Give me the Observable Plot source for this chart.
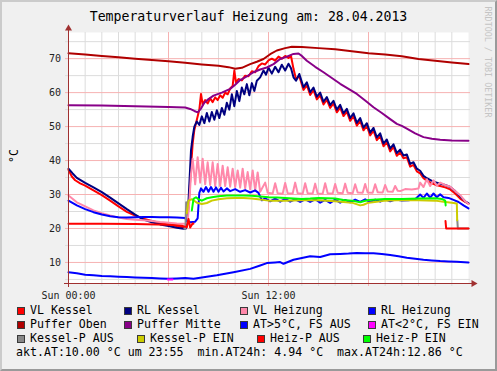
<!DOCTYPE html>
<html><head><meta charset="utf-8">
<script src="https://cdn.jsdelivr.net/npm/d3@7"></script>
<script src="https://cdn.jsdelivr.net/npm/@observablehq/plot@0.6"></script>
<style>
html,body{margin:0;padding:0;background:#f0f0f0;}
#wrap{position:relative;width:497px;height:371px;background:#f0f0f0;overflow:hidden;font-family:"DejaVu Sans Mono",monospace;}
#wrap svg{position:absolute;left:0;top:0;}
#border{position:absolute;left:0;top:0;width:497px;height:371px;box-sizing:border-box;border-style:solid;border-width:2px;border-color:#cbcbcb #9a9a9a #9a9a9a #cbcbcb;pointer-events:none;}
.t{position:absolute;white-space:pre;color:#000;font-size:11.6px;line-height:11.6px;}
.box{position:absolute;width:8px;height:8px;box-sizing:border-box;border:1px solid #3a3a3a;}
#title{position:absolute;left:0;top:9.5px;width:497px;text-align:center;font-size:13.2px;line-height:13.2px;white-space:pre;color:#000;}
#ylab{position:absolute;left:13.5px;top:156px;transform:translate(-50%,-50%) rotate(-90deg);font-size:11.5px;white-space:pre;color:#000;}
#wm{position:absolute;left:488px;top:62px;transform:translate(-50%,-50%) rotate(90deg);font-size:8.4px;white-space:pre;color:#c4c4c4;}
</style></head>
<body>
<div id="wrap">
  <div id="title"></div>
  <div id="ylab"></div>
  <div id="wm"></div>
  <div id="border"></div>
</div>
<script>
const titleText = "Temperaturverlauf Heizung am: 28.04.2013";
const yLabelText = "°C";
const watermark = "RRDTOOL / TOBI OETIKER";

const xDomain = [0, 24];
const yDomain = [3.8, 77.7];
const yMajor = [10, 20, 30, 40, 50, 60, 70];
const yMinor = [5, 15, 25, 35, 45, 55, 65, 75];
const xMajor = [6, 12, 18];
const xMinor = [1,2,3,4,5,7,8,9,10,11,13,14,15,16,17,19,20,21,22,23];
const xLabelTicks = [0, 12];
const xLabelText = ["Sun 00:00", "Sun 12:00"];

// [hour, °C]
const vlKessel = [[0,37.3],[0.2,35.3],[0.4,34.2],[0.7,33.3],[1,32.6],[1.5,31.2],[2,29.8],[2.5,28.2],[3,26.5],[3.5,24.9],[4,23.8],[4.5,22.9],[5,22.2],[5.5,21.6],[6,21.1],[6.5,20.7],[6.9,20.3],[7.05,20.1],[7.15,23],[7.25,30],[7.35,38],[7.45,45],[7.55,49],[7.7,52],[7.85,55],[7.95,59.6],[8.05,56.5],[8.2,57.8],[8.35,56.8],[8.5,58.3],[8.65,57.2],[8.8,58.6],[8.95,57.8],[9.1,59.2],[9.25,58.5],[9.4,60],[9.55,59.5],[9.7,61.2],[9.85,62],[9.95,66.5],[10.05,63],[10.2,64],[10.4,63.6],[10.6,65],[10.8,64.8],[11,66.3],[11.2,66],[11.4,67.8],[11.6,68.6],[11.8,68.3],[12,69.5],[12.2,70],[12.4,69.4],[12.6,70.6],[12.8,70],[13,70.8],[13.2,70.2],[13.35,70.8],[13.5,67],[13.65,64],[13.85,64.8],[14.1,60.8],[14.3,62.2],[14.5,59.3],[14.7,60.7],[14.9,58],[15.1,59.2],[15.3,56.5],[15.5,57.9],[15.7,55.5],[15.9,56.8],[16.1,54.2],[16.3,55.6],[16.5,53.1],[16.7,54.4],[16.9,51.7],[17.1,53.1],[17.3,50.3],[17.5,51.7],[17.7,48.9],[17.9,50.2],[18.1,47.4],[18.3,48.8],[18.5,46],[18.7,47.2],[18.9,44.2],[19.1,45.4],[19.3,42.7],[19.5,44],[19.7,41.4],[19.9,42.4],[20.1,40.7],[20.3,41],[20.5,38.2],[20.7,38.7],[20.9,36.8],[21.1,36.2],[21.3,34.8],[21.5,34.1],[21.8,33.3],[22,32.9],[22.3,32.5],[22.6,32.1],[22.9,31.5],[23.2,30.3],[23.5,28.8],[23.8,27.8],[24,27.3]];
const rlKessel = [[0,37.6],[0.25,36.2],[0.5,34.9],[1,33.4],[1.5,32.1],[2,30.7],[2.5,29.1],[3,27.4],[3.5,25.7],[4,24.1],[4.5,22.6],[5,21.8],[5.5,21.2],[6,20.7],[6.5,20.2],[6.9,19.9],[7.05,20],[7.15,23.3],[7.25,33],[7.35,43],[7.45,47],[7.55,50],[7.7,51.5],[7.85,50.5],[8,53],[8.15,51],[8.3,54],[8.45,51.5],[8.6,54.3],[8.75,52],[8.9,54.8],[9.05,52.5],[9.2,55.5],[9.35,53.5],[9.5,57],[9.65,55],[9.8,59.5],[9.95,56],[10.1,60.5],[10.25,57.5],[10.4,61.5],[10.55,59.5],[10.7,62.5],[10.85,59.2],[11,62.8],[11.15,60.5],[11.3,63.5],[11.5,64.5],[11.7,66.5],[11.85,65.3],[12,67.3],[12.2,65.6],[12.4,67.6],[12.6,66],[12.8,68.2],[13,66.5],[13.2,68.5],[13.35,67.2],[13.5,64.5],[13.65,63.5],[13.85,65.5],[14.1,61.6],[14.3,63],[14.5,60.1],[14.7,61.5],[14.9,58.8],[15.1,60],[15.3,57.3],[15.5,58.7],[15.7,56.3],[15.9,57.6],[16.1,55],[16.3,56.4],[16.5,53.9],[16.7,55.2],[16.9,52.5],[17.1,53.9],[17.3,51.1],[17.5,52.5],[17.7,49.7],[17.9,51],[18.1,48.2],[18.3,49.6],[18.5,46.8],[18.7,48],[18.9,45],[19.1,46.2],[19.3,43.5],[19.5,44.8],[19.7,42.2],[19.9,43.2],[20.1,41.5],[20.3,41.8],[20.5,39],[20.7,39.5],[20.9,37.6],[21.1,37],[21.3,35.5],[21.5,34.8],[21.8,34],[22,33.6],[22.3,33.2],[22.6,32.8],[22.9,32.2],[23.2,31],[23.5,29.5],[23.8,28],[24,27.4]];
const vlHeizung = [[0,29.7],[0.5,27.7],[1,26.5],[1.5,25.3],[2,24.5],[2.5,23.8],[3,23.2],[3.5,22.8],[4,22.6],[4.5,22.4],[5,22.2],[5.5,21.9],[6,21.7],[6.5,21.5],[7,21.4],[7.15,22],[7.25,28],[7.35,36],[7.45,40.5],[7.6,33],[7.75,41],[7.9,33.5],[8.05,40.5],[8.2,33],[8.35,39.5],[8.5,32.8],[8.65,39.5],[8.8,32.5],[8.95,39],[9.1,32.5],[9.25,38.5],[9.4,32.5],[9.55,38],[9.7,32.3],[9.85,37.6],[10,32.2],[10.15,37.1],[10.3,32],[10.45,37.6],[10.6,31.8],[10.75,36.6],[10.9,31.5],[11.05,37.1],[11.2,31.2],[11.35,36.5],[11.5,30.8],[11.8,33.5],[11.95,30.5],[12.25,30.3],[12.4,33.3],[12.55,30.4],[12.85,30.2],[13,33.4],[13.15,30.4],[13.45,30.3],[13.6,33.5],[13.75,30.4],[14.05,30.2],[14.2,33.3],[14.35,30.4],[14.65,30.3],[14.8,33.2],[14.95,30.3],[15.25,30.2],[15.4,33.3],[15.55,30.4],[15.85,30.3],[16,33.1],[16.15,30.5],[16.45,30.4],[16.6,33.2],[16.75,30.5],[17.05,30.4],[17.2,33],[17.35,30.6],[17.65,30.5],[17.8,33.1],[17.95,30.6],[18.25,30.5],[18.4,33],[18.55,30.7],[18.85,30.6],[19,32.8],[19.15,30.9],[19.45,30.8],[19.6,32.5],[19.75,31.1],[19.9,31],[20.2,31.6],[20.6,31.5],[21,31.8],[21.1,33.5],[21.3,32.2],[21.5,34.5],[21.7,32.5],[21.9,34.2],[22.1,32.6],[22.3,33.5],[22.6,32.8],[22.9,32.3],[23.2,31],[23.5,29.8],[23.8,28],[24,27.2]];
const rlHeizung = [[0,28.2],[0.5,26.8],[1,25.7],[1.5,24.8],[2,24.1],[2.5,23.6],[3,23.3],[3.5,23.2],[4,23.3],[4.5,23.4],[5,23.4],[5.5,23.3],[6,23.3],[6.5,23.2],[7,23.1],[7.1,22.2],[7.3,21.8],[7.6,22],[7.75,23],[7.85,30.5],[7.95,31.8],[8.1,30.8],[8.25,32.2],[8.4,30.8],[8.55,32.2],[8.7,30.8],[8.85,32.1],[9,30.8],[9.15,32],[9.3,30.9],[9.5,31.8],[9.7,31],[10,31.6],[10.3,30.8],[10.6,31.3],[10.9,30.6],[11.2,31.2],[11.4,30.5],[11.6,28.3],[11.8,28.9],[12.1,28],[12.4,28.8],[12.7,27.9],[13,28.7],[13.3,27.9],[13.6,28.6],[13.9,27.8],[14.2,28.6],[14.5,27.8],[14.8,28.6],[15.1,27.6],[15.4,28.4],[15.7,27.5],[16,28.5],[16.3,27.6],[16.6,28.4],[16.9,27.7],[17.2,28.5],[17.5,27.8],[17.8,28.6],[18.1,27.8],[18.4,28.5],[18.7,27.9],[19,28.6],[19.3,28],[19.6,28.5],[20,28.2],[20.4,28.3],[20.8,28.6],[21.1,30],[21.3,29],[21.5,30.3],[21.7,29.1],[21.9,30.3],[22.1,29.2],[22.3,30.1],[22.5,29.2],[22.8,29],[23.1,28.4],[23.4,27.8],[23.7,26.8],[24,25.9]];
const pufferOben = [[0,71.6],[1,71.2],[2,70.8],[3,70.4],[4,70],[5,69.6],[6,69.2],[7,68.8],[8,68.3],[9,67.9],[9.6,67.5],[10,67],[10.4,67.3],[10.9,68.4],[11.3,69.1],[11.7,69.9],[12.1,71.3],[12.5,72.4],[13,73.1],[13.4,73.5],[14,73.4],[15,73.1],[16,72.8],[17,72.2],[18,71.6],[19,71.2],[20,70.7],[21,69.9],[22,69.4],[23,68.9],[24,68.4]];
const pufferMitte = [[0,56.3],[2,56.2],[4,56],[6,55.8],[7,55.6],[7.3,55.2],[7.55,54.6],[7.75,54.2],[7.95,55.3],[8.15,57],[8.4,58.1],[8.7,59.1],[9.2,60],[9.7,61.1],[10,62.3],[10.3,63.7],[10.7,64.8],[11.1,66],[11.5,66.8],[11.9,67.4],[12.3,68.4],[12.7,69.9],[13.1,70.6],[13.5,71.4],[13.8,71.5],[14,70.8],[14.3,69.4],[14.8,67.6],[15.3,66],[15.8,64.3],[16.3,62.6],[16.8,61.1],[17.3,59.6],[17.8,57.7],[18.3,55.7],[18.8,54],[19.3,52.2],[19.7,50.8],[20,50.2],[20.3,49.4],[20.8,48],[21.3,46.9],[21.8,46.4],[22.3,46.1],[23,45.9],[24,45.8]];
const atWarm = [[0,7.1],[0.5,6.8],[1,6.4],[1.5,6.2],[2,6],[2.5,5.9],[3,5.8],[3.5,5.7],[4,5.6],[4.5,5.5],[5,5.4],[5.5,5.3],[6,5.2],[6.5,5.3],[7,5.4],[7.5,5.2],[7.9,5.5],[8.9,6.2],[9.9,7.1],[10.9,8.1],[11.5,9.1],[11.9,9.8],[12.4,10],[12.7,10.1],[12.9,9.6],[13.5,10.8],[14.5,11.8],[15.1,11.6],[15.7,12.4],[16.3,12.5],[16.8,12.6],[17.3,12.8],[17.8,12.7],[18.3,12.7],[18.8,12.5],[19.3,12.2],[19.8,11.8],[20.3,11.4],[20.8,11.1],[21.3,10.8],[21.8,10.6],[22.3,10.4],[22.8,10.3],[23.3,10.2],[24,10]];
const atFrost = [[5.95,5.0],[6.1,4.95],[6.25,5.0]];
const kesselPAus1 = [[6.95,20],[7.02,20],[7.06,27.7]];
const kesselPAus2 = [[23.33,22.4],[23.36,20],[24,20]];
const kesselPEin = [[7.1,24.5],[7.2,28.2],[7.4,28.6],[7.7,27.6],[8,27.2],[8.3,27.5],[8.6,28.2],[9,28.6],[9.5,28.9],[10,29],[10.5,29],[11,28.8],[11.5,28.5],[12,28.2],[13,28.2],[14,28.3],[15,28.3],[16,28],[17,27.6],[17.5,26.8],[17.7,27],[18,27.6],[18.5,27.9],[19,28.2],[20,28.4],[21,28.3],[22,28.2],[22.5,27.9],[23,27.6],[23.2,27.4],[23.3,27.3],[23.32,22.4]];
const heizPAus1 = [[0,21.4],[2,21.4],[4,21.3],[6,21.1],[6.8,20.8],[7.1,20.4],[7.2,22.8],[7.3,20.3],[7.45,21.5],[7.5,21.4]];
const heizPAus2 = [[22.62,22.2],[22.66,20],[24,20]];
const heizPEin = [[7.4,25.3],[7.5,28.7],[7.65,29.2],[7.8,28.6],[8,28.2],[8.3,28.9],[8.6,29.2],[9,29.5],[9.5,29.7],[10,29.7],[10.5,29.7],[11,29.6],[11.5,29.4],[12,29.2],[12.5,29.1],[13,29],[14,28.7],[14.5,28.8],[15,29],[16,28.8],[16.5,28.4],[17,28.2],[17.5,27.7],[17.7,28],[18,28.4],[19,28.7],[20,28.7],[21,28.8],[22,28.9],[22.4,28.7],[22.6,28.2],[22.63,26.8]];

const lineSeries = [
  [vlKessel, "#ff0000"], [rlKessel, "#000080"], [vlHeizung, "#ff88aa"], [rlHeizung, "#0000ff"],
  [pufferOben, "#b00000"], [pufferMitte, "#880088"], [atWarm, "#0000ff"], [atFrost, "#ff00ff"],
  [kesselPAus1, "#888888"], [kesselPAus2, "#888888"], [kesselPEin, "#cccc00"],
  [heizPAus1, "#ff0000"], [heizPAus2, "#ff0000"], [heizPEin, "#00ff00"]
];

const legendLabels = [
  ["VL Kessel", "RL Kessel", "VL Heizung", "RL Heizung"],
  ["Puffer Oben", "Puffer Mitte", "AT>5°C, FS AUS", "AT<2°C, FS EIN"],
  ["Kessel-P AUS", "Kessel-P EIN", "Heiz-P AUS", "Heiz-P EIN"]
];
const legendColors = [
  ["#ff0000", "#000080", "#ff88aa", "#0000ff"],
  ["#b00000", "#880088", "#0000ff", "#ff00ff"],
  ["#888888", "#cccc00", "#ff0000", "#00ff00"]
];
const legendCols = [[17, 124, 240, 368], [17, 124, 240, 368], [17, 137, 257, 363]];
const legendBaselines = [315, 329, 343];
const summaryText = "akt.AT:10.00 °C um 23:55  min.AT24h: 4.94 °C  max.AT24h:12.86 °C";

const axisColor = "#a03030";
const toRows = arr => arr.map(([t, v]) => ({t, v}));

const plot = Plot.plot({
  width: 497, height: 371,
  marginLeft: 68, marginRight: 29, marginTop: 32, marginBottom: 88,
  x: {domain: xDomain, label: null},
  y: {domain: yDomain, label: null},
  style: {fontFamily: "DejaVu Sans Mono", fontSize: "10px", background: "transparent", overflow: "visible", color: "#222"},
  marks: [
    Plot.frame({fill: "#ffffff", stroke: "none"}),
    Plot.ruleY(yMinor, {stroke: "#dcdcdc", insetLeft: -3, insetRight: -2}),
    Plot.ruleX(xMinor, {stroke: "#dcdcdc", insetBottom: -3}),
    Plot.ruleY(yMajor, {stroke: "#f6b2b2", insetLeft: -3, insetRight: -2}),
    Plot.ruleX(xMajor, {stroke: "#f6b2b2", insetBottom: -3}),
    ...lineSeries.map(([arr, c]) => Plot.line(toRows(arr), {x: "t", y: "v", stroke: c, strokeWidth: 2})),
    Plot.ruleY([yDomain[0]], {stroke: axisColor, insetLeft: -4, insetRight: -4}),
    Plot.ruleX([xDomain[0]], {stroke: axisColor, insetTop: -3, insetBottom: -4}),
    Plot.dot([0], {x: () => xDomain[1], y: () => yDomain[0], dx: 5, symbol: "triangle", rotate: 90, r: 2.6, fill: axisColor, stroke: "none"}),
    Plot.dot([0], {x: () => xDomain[0], y: () => yDomain[1], dy: -4, symbol: "triangle", rotate: 0, r: 2.6, fill: axisColor, stroke: "none"}),
    Plot.axisY({ticks: yMajor, tickSize: 0, tickPadding: 7.5, fontSize: 10, fill: "#222"}),
    Plot.axisX({ticks: xLabelTicks, tickSize: 0, tickPadding: 8, fontSize: 10, fill: "#222",
      tickFormat: d => xLabelText[xLabelTicks.indexOf(d)]})
  ]
});

const wrap = document.getElementById("wrap");
wrap.insertBefore(plot, wrap.firstChild);
document.getElementById("title").textContent = titleText;
document.getElementById("ylab").textContent = yLabelText;
document.getElementById("wm").textContent = watermark;

const border = document.getElementById("border");
legendLabels.forEach((row, r) => {
  row.forEach((label, c) => {
    const x = legendCols[r][c];
    const b = document.createElement("div");
    b.className = "box";
    b.style.left = x + "px";
    b.style.top = (legendBaselines[r] - 8) + "px";
    b.style.background = legendColors[r][c];
    wrap.insertBefore(b, border);
    const t = document.createElement("div");
    t.className = "t";
    t.style.left = (x + 13) + "px";
    t.style.top = (legendBaselines[r] - 9.8) + "px";
    t.textContent = label;
    wrap.insertBefore(t, border);
  });
});
const s = document.createElement("div");
s.className = "t";
s.style.left = "16px";
s.style.top = (357 - 9.8) + "px";
s.textContent = summaryText;
wrap.insertBefore(s, border);
</script>
</body></html>
